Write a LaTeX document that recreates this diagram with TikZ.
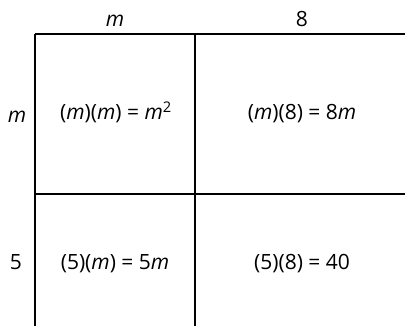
\documentclass[tikz,border=0pt]{standalone}
\usepackage{fontspec}
\setmainfont{Open Sans}
\usetikzlibrary{positioning}
\newcommand{\vm}{\textit{m}}

\begin{document}
\begin{tikzpicture}[x=1pt, y=1pt, font=\fontsize{21}{24}\selectfont,
    lbl/.style={anchor=base, inner sep=0pt}]
        \useasboundingbox (0,0) rectangle (405,326);
        % grid lines
        \draw[line width=1.2pt] (35,292) -- (405,292);
        \draw[line width=1.2pt] (35,132) -- (405,132);
        \draw[line width=1.2pt] (35,292) -- (35,0);
        \draw[line width=1.2pt] (195,292) -- (195,0);
        % side labels
        \node[lbl] (tm) at (115,299) {\vm};
        \node[lbl] (t8) at (302,299) {8};
        \node[lbl] (lm) at (17,203) {\vm};
        \node[lbl] (l5) at (16,56) {5};
        % products
        \node[lbl] (mm) at (116,206) {(\vm)(\vm) = \vm\textsuperscript{2}};
        \node[lbl] (m8) at (302,206) {(\vm)(8) = 8\vm};
        \node[lbl] (fm) at (115,56) {(5)(\vm) = 5\vm};
        \node[lbl] (f8) at (302,56) {(5)(8) = 40};
      \end{tikzpicture}
\end{document}
